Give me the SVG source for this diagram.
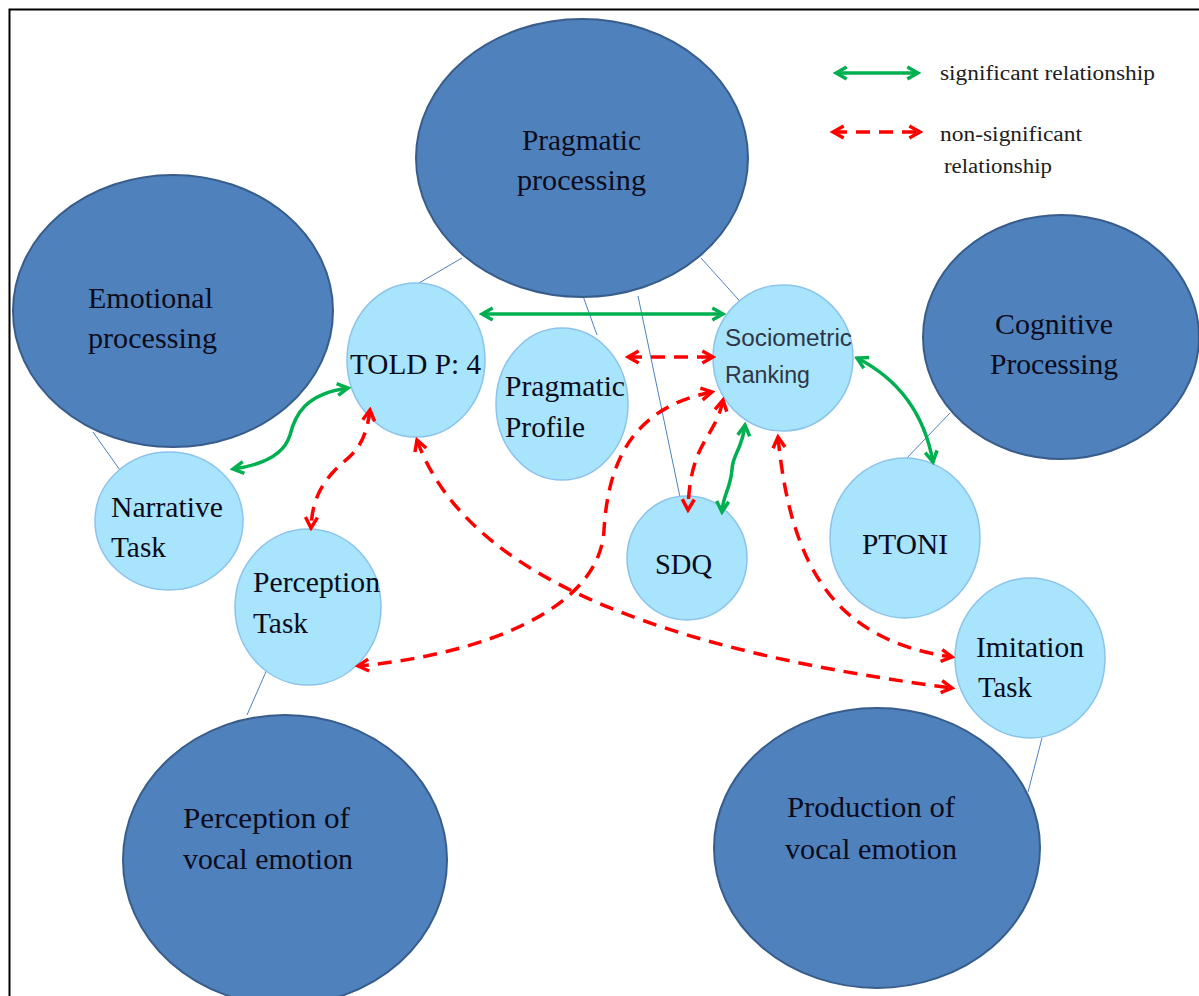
<svg xmlns="http://www.w3.org/2000/svg" width="1199" height="996" viewBox="0 0 1199 996">
<defs>
<style>
.big{fill:#4F81BD;stroke:#385D8A;stroke-width:2}
.small{fill:#A8E4FB;stroke:#8CC3EC;stroke-width:1.5}
.t{font-family:"Liberation Serif","Times New Roman",serif;font-size:30px;fill:#0C0C1C}
.s{font-family:"Liberation Sans",Arial,sans-serif;font-size:23px;fill:#2E3646}
.lg{font-family:"Liberation Serif","Times New Roman",serif;font-size:20px;fill:#202020}
.thin{stroke:#4F81BD;stroke-width:1;fill:none}
.sig{stroke:#00B050;stroke-width:3.5;fill:none;marker-start:url(#gh);marker-end:url(#gh)}
.ns{stroke:#FF0000;stroke-width:3.5;fill:none;stroke-dasharray:14 9;marker-start:url(#rh);marker-end:url(#rh)}
</style>
<marker id="gh" viewBox="0 0 12 12" refX="10" refY="6" markerWidth="16" markerHeight="16" markerUnits="userSpaceOnUse" orient="auto-start-reverse"><path d="M2,1.5 L10,6 L2,10.5" fill="none" stroke="#00B050" stroke-width="2.6"/></marker>
<marker id="rh" viewBox="0 0 12 12" refX="10" refY="6" markerWidth="16" markerHeight="16" markerUnits="userSpaceOnUse" orient="auto-start-reverse"><path d="M2,1.5 L10,6 L2,10.5" fill="none" stroke="#FF0000" stroke-width="2.6"/></marker>
</defs>
<rect x="0" y="0" width="1199" height="996" fill="#fff"/>
<rect x="9.5" y="9.5" width="1205" height="1005" fill="none" stroke="#000" stroke-width="2"/>

<g id="links">
<line class="thin" x1="93" y1="432" x2="122" y2="473"/>
<line class="thin" x1="462" y1="258" x2="419" y2="283"/>
<line class="thin" x1="583" y1="296" x2="597" y2="335"/>
<line class="thin" x1="638" y1="296" x2="680" y2="497"/>
<line class="thin" x1="701" y1="258" x2="746" y2="308"/>
<line class="thin" x1="950" y1="413" x2="905" y2="460"/>
<line class="thin" x1="272" y1="658" x2="247" y2="715"/>
<line class="thin" x1="1042" y1="738" x2="1028" y2="792"/>
</g>

<g id="emotional-processing"><ellipse class="big" cx="173" cy="311" rx="160" ry="136"/><text class="t" x="88" y="308" textLength="125" lengthAdjust="spacingAndGlyphs">Emotional</text><text class="t" x="88" y="348" textLength="129" lengthAdjust="spacingAndGlyphs">processing</text></g>
<g id="pragmatic-processing"><ellipse class="big" cx="582" cy="158" rx="166" ry="139"/><text class="t" x="522" y="150" textLength="119" lengthAdjust="spacingAndGlyphs">Pragmatic</text><text class="t" x="517" y="190" textLength="129" lengthAdjust="spacingAndGlyphs">processing</text></g>
<g id="cognitive-processing"><ellipse class="big" cx="1061" cy="337" rx="138" ry="122"/><text class="t" x="995" y="334" textLength="118" lengthAdjust="spacingAndGlyphs">Cognitive</text><text class="t" x="990" y="374" textLength="128" lengthAdjust="spacingAndGlyphs">Processing</text></g>
<g id="perception-vocal"><ellipse class="big" cx="285" cy="860" rx="162" ry="145"/><text class="t" x="183" y="828" textLength="167" lengthAdjust="spacingAndGlyphs">Perception  of</text><text class="t" x="183" y="869" textLength="170" lengthAdjust="spacingAndGlyphs">vocal emotion</text></g>
<g id="production-vocal"><ellipse class="big" cx="877" cy="848" rx="163" ry="140"/><text class="t" x="787" y="817" textLength="168" lengthAdjust="spacingAndGlyphs">Production  of</text><text class="t" x="785" y="859" textLength="172" lengthAdjust="spacingAndGlyphs">vocal emotion</text></g>

<g id="told"><ellipse class="small" cx="416" cy="360" rx="69" ry="77"/><text class="t" x="350" y="374" textLength="131" lengthAdjust="spacingAndGlyphs">TOLD P: 4</text></g>
<g id="pragmatic-profile"><ellipse class="small" cx="562" cy="404" rx="66" ry="76"/><text class="t" x="505" y="396" textLength="120" lengthAdjust="spacingAndGlyphs">Pragmatic</text><text class="t" x="505" y="437" textLength="80" lengthAdjust="spacingAndGlyphs">Profile</text></g>
<g id="sociometric"><ellipse class="small" cx="783" cy="358" rx="70" ry="73"/><text class="s" x="725" y="346" textLength="127" lengthAdjust="spacingAndGlyphs">Sociometric</text><text class="s" x="725" y="383" textLength="85" lengthAdjust="spacingAndGlyphs">Ranking</text></g>
<g id="narrative"><ellipse class="small" cx="169" cy="521" rx="74" ry="69"/><text class="t" x="111" y="517" textLength="112" lengthAdjust="spacingAndGlyphs">Narrative</text><text class="t" x="111" y="557" textLength="55" lengthAdjust="spacingAndGlyphs">Task</text></g>
<g id="perception-task"><ellipse class="small" cx="308" cy="607" rx="73" ry="78"/><text class="t" x="253" y="592" textLength="127" lengthAdjust="spacingAndGlyphs">Perception</text><text class="t" x="253" y="633" textLength="55" lengthAdjust="spacingAndGlyphs">Task</text></g>
<g id="sdq"><ellipse class="small" cx="687" cy="558" rx="60" ry="62"/><text class="t" x="655" y="574" textLength="57" lengthAdjust="spacingAndGlyphs">SDQ</text></g>
<g id="ptoni"><ellipse class="small" cx="905" cy="538" rx="75" ry="80"/><text class="t" x="862" y="554" textLength="86" lengthAdjust="spacingAndGlyphs">PTONI</text></g>
<g id="imitation"><ellipse class="small" cx="1030" cy="658" rx="75" ry="80"/><text class="t" x="976" y="657" textLength="108" lengthAdjust="spacingAndGlyphs">Imitation</text><text class="t" x="978" y="697" textLength="54" lengthAdjust="spacingAndGlyphs">Task</text></g>

<g id="connectors">
<path class="sig" d="M482,314 L723,314"/>
<path class="sig" d="M348,388 C305,394 295,415 290,435 C284,455 262,465 233,469"/>
<path class="sig" d="M857,358 Q920,390 933,462"/>
<path class="sig" d="M745,425 C742,450 732,455 732,470 C730,490 723,495 722,512"/>
<path class="ns" d="M628,357 L713,357"/>
<path class="ns" d="M712,392 C630,408 608,465 604,530 C600,610 480,655 358,666"/>
<path class="ns" d="M370,410 C365,450 350,455 335,470 C318,488 312,505 311,528"/>
<path class="ns" d="M417,440 C460,560 620,645 952,688"/>
<path class="ns" d="M778,437 C790,560 830,640 952,657"/>
<path class="ns" d="M723,400 C715,440 690,440 688,510"/>
</g>

<g id="legend">
<path class="sig" d="M836,73 L918,73"/>
<text class="lg" x="940" y="80" textLength="215" lengthAdjust="spacingAndGlyphs">significant relationship</text>
<path class="ns" d="M833,132 L920,132"/>
<text class="lg" x="940" y="141" textLength="142" lengthAdjust="spacingAndGlyphs">non-significant</text>
<text class="lg" x="944" y="173" textLength="108" lengthAdjust="spacingAndGlyphs">relationship</text>
</g>
</svg>
